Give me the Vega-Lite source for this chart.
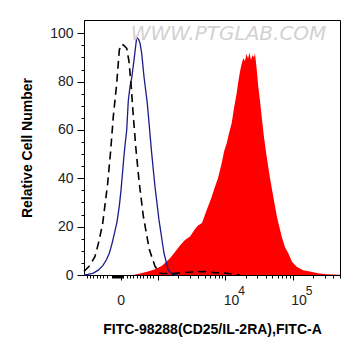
{
  "$schema": "https://vega.github.io/schema/vega-lite/v6.json",
  "width": 256,
  "height": 255,
  "autosize": "none",
  "padding": {"left": 84, "top": 20, "right": 21, "bottom": 81},
  "background": "white",
  "config": {
    "view": {"stroke": "black", "strokeWidth": 1},
    "font": "Liberation Sans",
    "axis": {"grid": false, "labelFont": "Liberation Sans", "titleFont": "Liberation Sans", "domainColor": "black", "tickColor": "black", "labelColor": "#222222", "titleColor": "black"}
  },
  "datasets": {
    "sample": [
      {"u": 2.634, "v": 0}, {"u": 2.738, "v": 0.6}, {"u": 2.856, "v": 1.4}, {"u": 2.96, "v": 2.4},
      {"u": 3.064, "v": 3.8}, {"u": 3.182, "v": 6.9}, {"u": 3.256, "v": 9.5}, {"u": 3.33, "v": 12.2},
      {"u": 3.404, "v": 14.5}, {"u": 3.479, "v": 15.9}, {"u": 3.553, "v": 19.0}, {"u": 3.597, "v": 20.5},
      {"u": 3.656, "v": 21.5}, {"u": 3.726, "v": 26.9}, {"u": 3.79, "v": 31.5}, {"u": 3.849, "v": 36.5},
      {"u": 3.893, "v": 40}, {"u": 3.948, "v": 46.2}, {"u": 3.982, "v": 51}, {"u": 4.022, "v": 54.5},
      {"u": 4.056, "v": 58.5}, {"u": 4.096, "v": 62.8}, {"u": 4.13, "v": 69}, {"u": 4.17, "v": 75.2},
      {"u": 4.194, "v": 80}, {"u": 4.219, "v": 84.1}, {"u": 4.241, "v": 87}, {"u": 4.268, "v": 89.7},
      {"u": 4.293, "v": 88.5}, {"u": 4.316, "v": 91.5}, {"u": 4.338, "v": 89.5}, {"u": 4.36, "v": 92},
      {"u": 4.382, "v": 89}, {"u": 4.404, "v": 91}, {"u": 4.427, "v": 90}, {"u": 4.441, "v": 91.7},
      {"u": 4.464, "v": 86}, {"u": 4.49, "v": 78}, {"u": 4.516, "v": 72}, {"u": 4.541, "v": 65.5},
      {"u": 4.575, "v": 57}, {"u": 4.615, "v": 48.9}, {"u": 4.664, "v": 40}, {"u": 4.713, "v": 32.4},
      {"u": 4.767, "v": 24}, {"u": 4.837, "v": 15.9}, {"u": 4.886, "v": 11.5}, {"u": 4.935, "v": 9.0},
      {"u": 4.99, "v": 5.5}, {"u": 5.059, "v": 3.4}, {"u": 5.153, "v": 2.0}, {"u": 5.256, "v": 1.4},
      {"u": 5.375, "v": 0.7}, {"u": 5.504, "v": 0.3}, {"u": 5.701, "v": 0.1}
    ],
    "blue": [
      {"u": 1.908, "v": 0}, {"u": 1.967, "v": 0.3}, {"u": 2.046, "v": 0.8}, {"u": 2.12, "v": 2.0},
      {"u": 2.19, "v": 4.0}, {"u": 2.244, "v": 6.5}, {"u": 2.283, "v": 9.0}, {"u": 2.323, "v": 13},
      {"u": 2.357, "v": 17}, {"u": 2.397, "v": 22}, {"u": 2.431, "v": 28.5}, {"u": 2.456, "v": 35},
      {"u": 2.476, "v": 41.4}, {"u": 2.496, "v": 48}, {"u": 2.516, "v": 53.8}, {"u": 2.541, "v": 60},
      {"u": 2.564, "v": 72}, {"u": 2.59, "v": 78}, {"u": 2.615, "v": 81.4}, {"u": 2.649, "v": 89},
      {"u": 2.689, "v": 98.3}, {"u": 2.716, "v": 97.5}, {"u": 2.738, "v": 95.9}, {"u": 2.763, "v": 91.7},
      {"u": 2.797, "v": 82}, {"u": 2.846, "v": 71}, {"u": 2.911, "v": 50.3}, {"u": 2.96, "v": 36.5},
      {"u": 3.019, "v": 22.8}, {"u": 3.093, "v": 9}, {"u": 3.157, "v": 2}, {"u": 3.212, "v": 0.4},
      {"u": 3.286, "v": 0}
    ],
    "control": [
      {"u": 1.908, "v": 1.5}, {"u": 1.997, "v": 4}, {"u": 2.071, "v": 7.7}, {"u": 2.13, "v": 14},
      {"u": 2.185, "v": 21.4}, {"u": 2.219, "v": 29}, {"u": 2.259, "v": 38}, {"u": 2.304, "v": 51.7},
      {"u": 2.342, "v": 65.5}, {"u": 2.393, "v": 79.3}, {"u": 2.431, "v": 93.1}, {"u": 2.464, "v": 95.5},
      {"u": 2.49, "v": 95.2}, {"u": 2.541, "v": 93.8}, {"u": 2.575, "v": 88.3}, {"u": 2.604, "v": 79.3},
      {"u": 2.639, "v": 65.5}, {"u": 2.679, "v": 51.7}, {"u": 2.727, "v": 38}, {"u": 2.787, "v": 24.3},
      {"u": 2.876, "v": 10.5}, {"u": 2.96, "v": 3.6}, {"u": 3.034, "v": 0.7}, {"u": 3.182, "v": 0.5},
      {"u": 3.375, "v": 1.0}, {"u": 3.553, "v": 1.3}, {"u": 3.726, "v": 1.4}, {"u": 3.849, "v": 1.0},
      {"u": 4.022, "v": 0.7}, {"u": 4.219, "v": 0}
    ],
    "exponents": [
      {"u": 4, "s": "4"}, {"u": 5, "s": "5"}
    ],
    "mark": [
      {"u": 4.049, "v": 99.6, "t": "WWW.PTGLAB.COM"}
    ]
  },
  "resolve": {"axis": {"x": "independent", "y": "independent"}},
  "layer": [
    {
      "data": {"name": "sample"},
      "mark": {"type": "area", "color": "#ff0000", "interpolate": "linear"},
      "encoding": {
        "x": {"field": "u", "type": "quantitative",
          "scale": {"domain": [1.908, 5.701], "nice": false, "zero": false},
          "axis": {"orient": "bottom", "values": [2.452, 3, 4, 5], "tickSize": 5, "labelFontSize": 14, "labelPadding": 13,
            "labelExpr": "datum.value < 2.8 ? '0' : datum.value < 3.5 ? '' : '10'",
            "labelAlign": {"condition": {"test": "datum.value < 3.5", "value": "center"}, "value": "left"},
            "labelOffset": {"condition": {"test": "datum.value < 3.5", "value": 0}, "value": -2},
            "title": "FITC-98288(CD25/IL-2RA),FITC-A", "titleFontSize": 14, "titleFontWeight": "bold", "titlePadding": 15}},
        "y": {"field": "v", "type": "quantitative",
          "scale": {"domain": [0, 105.5], "nice": false},
          "axis": {"orient": "left", "values": [0, 20, 40, 60, 80, 100], "tickSize": 7, "labelFontSize": 14, "labelPadding": 4,
            "title": "Relative Cell Number", "titleFontSize": 14, "titleFontWeight": "bold", "titlePadding": 15}}
      }
    },
    {
      "data": {"name": "blue"},
      "mark": {"type": "line", "color": "#1c1c8c", "strokeWidth": 1.3},
      "encoding": {
        "x": {"field": "u", "type": "quantitative",
          "axis": {"orient": "bottom", "domain": false, "labels": false, "title": null, "tickSize": 3,
            "values": [1.948, 1.997, 2.046, 2.096, 2.145, 2.194, 2.244, 2.319, 2.333, 2.348, 2.363, 2.378, 2.393, 2.407, 2.422, 2.437, 2.467, 2.481, 2.541, 2.59, 2.639, 2.689, 2.738, 2.787, 2.837, 2.886, 2.935, 3.301, 3.477, 3.602, 3.699, 3.778, 3.845, 3.903, 3.954, 4.301, 4.477, 4.602, 4.699, 4.778, 4.845, 4.903, 4.954, 5.301, 5.477, 5.602, 5.699]}},
        "y": {"field": "v", "type": "quantitative",
          "axis": {"orient": "left", "domain": false, "labels": false, "title": null, "tickSize": 3,
            "values": [5, 10, 15, 25, 30, 35, 45, 50, 55, 65, 70, 75, 85, 90, 95]}}
      }
    },
    {
      "data": {"name": "control"},
      "mark": {"type": "line", "color": "black", "strokeWidth": 1.6, "strokeDash": [8, 5]},
      "encoding": {
        "x": {"field": "u", "type": "quantitative", "axis": null},
        "y": {"field": "v", "type": "quantitative", "axis": null}
      }
    },
    {
      "data": {"name": "exponents"},
      "mark": {"type": "text", "color": "#222222", "fontSize": 12, "font": "Liberation Sans", "align": "left", "baseline": "middle", "dx": 13, "dy": 16, "clip": false},
      "encoding": {
        "x": {"field": "u", "type": "quantitative", "axis": null},
        "y": {"datum": 0, "type": "quantitative", "axis": null},
        "text": {"field": "s"}
      }
    },
    {
      "data": {"name": "mark"},
      "mark": {"type": "text", "color": "#d2d2d2", "fontSize": 20, "fontStyle": "italic", "font": "DejaVu Sans", "baseline": "middle", "align": "center"},
      "encoding": {
        "x": {"field": "u", "type": "quantitative", "axis": null},
        "y": {"field": "v", "type": "quantitative", "axis": null},
        "text": {"field": "t"}
      }
    }
  ]
}
